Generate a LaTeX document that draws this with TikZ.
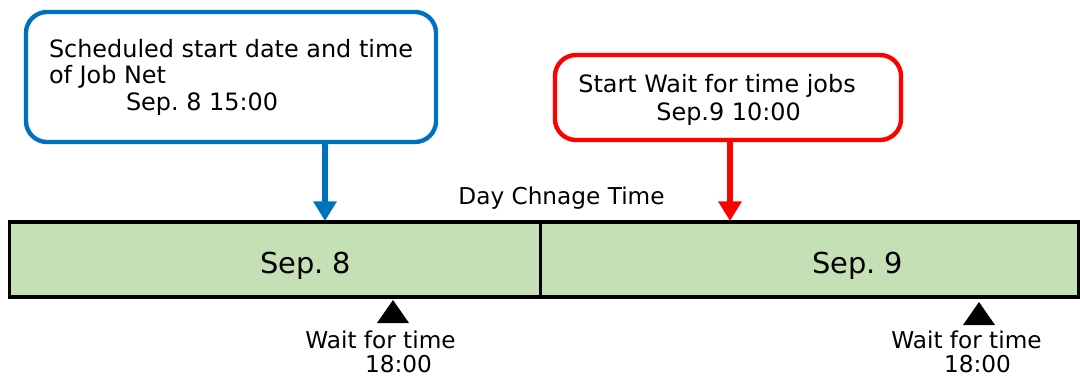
\documentclass[tikz,border=0pt]{standalone}
\usepackage{fontspec}
\setmainfont{DejaVu Sans}
\usetikzlibrary{arrows.meta}
\definecolor{jobblue}{HTML}{0070C0}
\definecolor{daygreen}{HTML}{C5E0B4}
\frenchspacing

\begin{document}
\begin{tikzpicture}[x=0.025cm,y=-0.025cm,
  callout/.style={draw, rounded corners=15pt, line width=3.1pt, fill=white, align=left, inner sep=0pt},
  daycell/.style={draw, fill=daygreen, line width=2.2pt, minimum height=1.875cm, inner sep=0pt},
  pointer/.style={line width=4.8pt, -{Triangle[length=14pt,width=16pt]}},
  daytext/.style={anchor=base, font=\fontsize{20.5}{24}\selectfont},
  waittext/.style={anchor=base, font=\fontsize{16.5}{18}\selectfont}]
  \useasboundingbox (0,0) rectangle (1080,378);

  % callouts
  \node[callout, draw=jobblue, minimum width=10.25cm, minimum height=3.25cm,
    font=\fontsize{17}{18.85}\selectfont] (plan) at (231,77)
    {Scheduled start date and time\\of Job Net\\\hspace*{54.8pt}Sep. 8 15:00};
  \node[callout, draw=red, minimum width=8.65cm, minimum height=2.125cm,
    font=\fontsize{17}{19.9}\selectfont] (change) at (728,97.5)
    {\rule{0pt}{17pt}Start Wait for time jobs\hspace*{15.6pt}\\\hspace*{55.5pt}Sep.9 10:00};

  % days
  \node[daycell, minimum width=13.275cm] (day8) at (275.5,259.5) {};
  \node[daycell, minimum width=13.425cm] (day9) at (809.5,259.5) {};
  \node[daytext] (day8name) at (305.5,273) {Sep. 8};
  \node[daytext] (day9name) at (857.5,273) {Sep. 9};
  \node[anchor=base, font=\fontsize{16.5}{18}\selectfont] (daychange) at (561.5,204) {Day Chnage Time};

  \coordinate (hit8) at (325,221);
  \coordinate (hit9) at (730,221);
  \draw[pointer, jobblue] (plan.south -| hit8) -- (hit8);
  \draw[pointer, red] (change.south -| hit9) -- (hit9);

  % wait for time jobs
  \fill (393,300) -- (377,323) -- (409,323) -- cycle;
  \fill (979,302) -- (963,325) -- (995,325) -- cycle;
  \node[waittext] (wait8) at (380.5,348) {Wait for time};
  \node[waittext] (clock8) at (398.5,372) {18:00};
  \node[waittext] (wait9) at (966.5,348) {Wait for time};
  \node[waittext] (clock9) at (977.5,372) {18:00};
\end{tikzpicture}
\end{document}
